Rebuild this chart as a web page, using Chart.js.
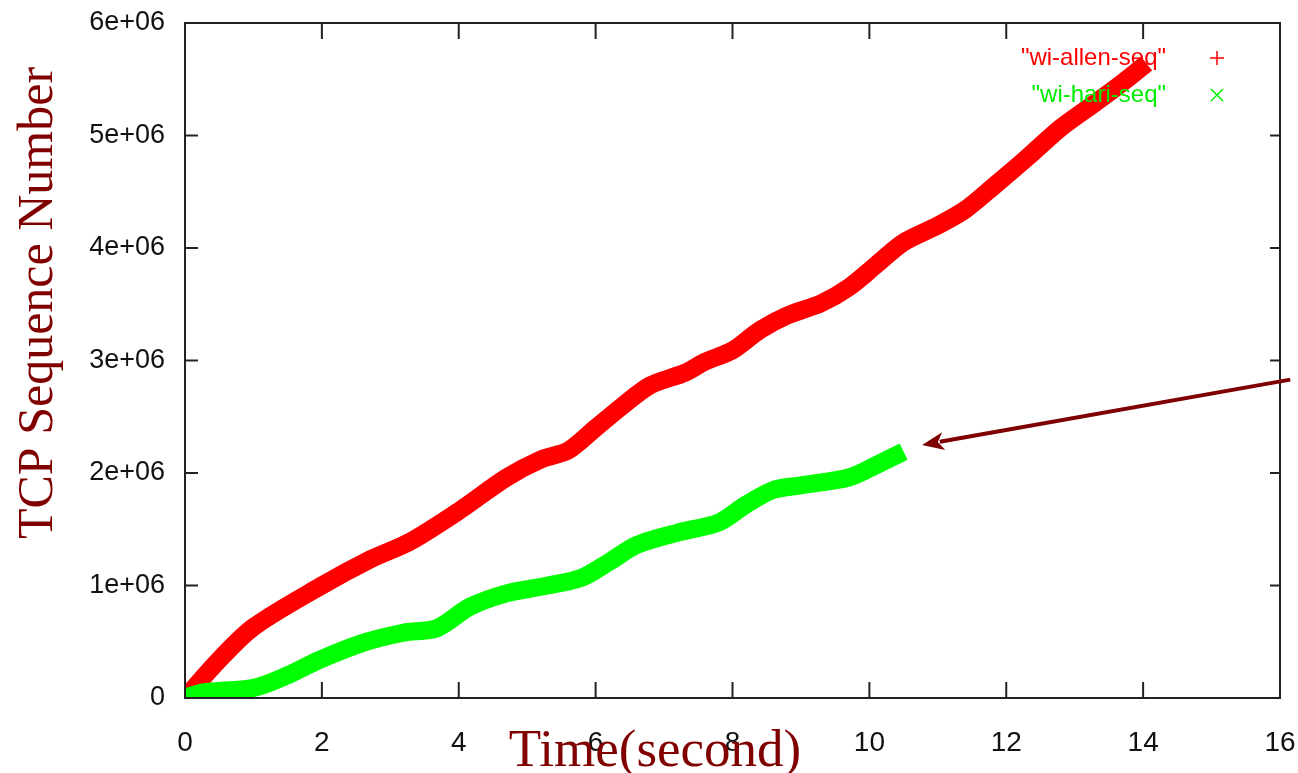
<!DOCTYPE html>
<html>
<head>
<meta charset="utf-8">
<script src="https://cdn.jsdelivr.net/npm/chart.js@4.4.1/dist/chart.umd.min.js"></script>
<style>
html,body{margin:0;padding:0;background:#fff;}
#wrap{width:1298px;height:773px;}
</style>
</head>
<body>
<div id="wrap"><canvas id="c" width="1298" height="773"></canvas></div>
<script>
const xTicks = [0, 2, 4, 6, 8, 10, 12, 14, 16];
const yTicks = [0, 1e6, 2e6, 3e6, 4e6, 5e6, 6e6];
const yTickLabels = ["0", "1e+06", "2e+06", "3e+06", "4e+06", "5e+06", "6e+06"];

const allenTime = [0, 0.5, 1.0, 1.97, 2.7, 3.29, 4.02, 4.7, 5.2, 5.6, 6.0, 6.4, 6.8, 7.3, 7.6, 8.0, 8.4, 8.8, 9.3, 9.7, 10.1, 10.5, 11.0, 11.4, 11.8, 12.3, 12.8, 13.3, 13.7, 14.05];
const allenSeq = [0, 0.34e6, 0.63e6, 0.99e6, 1.23e6, 1.39e6, 1.67e6, 1.96e6, 2.12e6, 2.2e6, 2.4e6, 2.6e6, 2.78e6, 2.89e6, 2.99e6, 3.09e6, 3.27e6, 3.4e6, 3.51e6, 3.65e6, 3.85e6, 4.05e6, 4.2e6, 4.34e6, 4.54e6, 4.8e6, 5.07e6, 5.29e6, 5.47e6, 5.64e6];

const hariTime = [0, 0.26, 1.0, 1.49, 1.97, 2.6, 3.19, 3.68, 4.16, 4.7, 5.3, 5.8, 6.2, 6.6, 7.2, 7.8, 8.2, 8.6, 9.0, 9.7, 10.1, 10.5];
const hariSeq = [0, 0.05e6, 0.09e6, 0.2e6, 0.34e6, 0.49e6, 0.58e6, 0.62e6, 0.81e6, 0.93e6, 1.0e6, 1.07e6, 1.21e6, 1.36e6, 1.47e6, 1.56e6, 1.72e6, 1.85e6, 1.89e6, 1.96e6, 2.07e6, 2.19e6];

const seriesNames = ['"wi-allen-seq"', '"wi-hari-seq"'];
const arrowTail = [16.15, 2.83e6];
const arrowHead = [10.77, 2.25e6];

const xTitle = "Time(second)";
const yTitle = "TCP Sequence Number";

const SANS = "'Liberation Sans', Arial, sans-serif";

function pts(xs, ys) { return xs.map((x, i) => ({x: x, y: ys[i]})); }

const framePlugin = {
  id: 'frame',
  afterDatasetsDraw(chart) {
    const {ctx, chartArea: a, scales: {x, y}} = chart;
    ctx.save();
    ctx.strokeStyle = '#222';
    ctx.lineWidth = 2;
    ctx.strokeRect(a.left, a.top, a.right - a.left, a.bottom - a.top);
    ctx.beginPath();
    xTicks.forEach(v => {
      const px = x.getPixelForValue(v);
      ctx.moveTo(px, a.bottom); ctx.lineTo(px, a.bottom - 16);
      ctx.moveTo(px, a.top); ctx.lineTo(px, a.top + 16);
    });
    yTicks.forEach(v => {
      const py = y.getPixelForValue(v);
      ctx.moveTo(a.left, py); ctx.lineTo(a.left + 13, py);
      ctx.moveTo(a.right, py); ctx.lineTo(a.right - 10, py);
    });
    ctx.stroke();

    // legend
    const colors = ['#ff0000', '#00ee00'];
    const rowsY = [58, 95];
    ctx.font = "24px " + SANS;
    ctx.textAlign = 'right';
    ctx.textBaseline = 'middle';
    seriesNames.forEach((n, i) => {
      ctx.fillStyle = colors[i];
      ctx.fillText(n, 1166, rowsY[i]);
    });
    ctx.strokeStyle = colors[0];
    ctx.lineWidth = 1.5;
    ctx.beginPath();
    ctx.moveTo(1210, rowsY[0]); ctx.lineTo(1224, rowsY[0]);
    ctx.moveTo(1217, rowsY[0] - 7); ctx.lineTo(1217, rowsY[0] + 7);
    ctx.stroke();
    ctx.strokeStyle = colors[1];
    ctx.beginPath();
    ctx.moveTo(1211, rowsY[1] - 6); ctx.lineTo(1223, rowsY[1] + 6);
    ctx.moveTo(1223, rowsY[1] - 6); ctx.lineTo(1211, rowsY[1] + 6);
    ctx.stroke();
    ctx.restore();
  },
  afterDraw(chart) {
    const {ctx, scales: {x, y}} = chart;
    ctx.save();
    // arrow
    const tx = x.getPixelForValue(arrowTail[0]), ty = y.getPixelForValue(arrowTail[1]);
    const hx = x.getPixelForValue(arrowHead[0]), hy = y.getPixelForValue(arrowHead[1]);
    const ang = Math.atan2(hy - ty, hx - tx);
    const L = 22, W = 9;
    const bx = hx - L * Math.cos(ang), by = hy - L * Math.sin(ang);
    ctx.strokeStyle = '#7f0000';
    ctx.fillStyle = '#7f0000';
    ctx.lineWidth = 4;
    ctx.beginPath();
    ctx.moveTo(tx, ty); ctx.lineTo(bx + 4 * Math.cos(ang), by + 4 * Math.sin(ang));
    ctx.stroke();
    ctx.beginPath();
    ctx.moveTo(hx, hy);
    ctx.lineTo(bx + W * Math.sin(ang), by - W * Math.cos(ang));
    ctx.lineTo(bx + 6 * Math.cos(ang), by + 6 * Math.sin(ang));
    ctx.lineTo(bx - W * Math.sin(ang), by + W * Math.cos(ang));
    ctx.closePath();
    ctx.fill();

    // titles
    ctx.fillStyle = '#800000';
    ctx.font = "53px 'Liberation Serif', 'DejaVu Serif', serif";
    ctx.textAlign = 'center';
    ctx.textBaseline = 'alphabetic';
    ctx.fillText(xTitle, 655, 766);
    ctx.translate(52, 303);
    ctx.rotate(-Math.PI / 2);
    ctx.font = "50px 'Liberation Serif', 'DejaVu Serif', serif";
    ctx.fillText(yTitle, 0, 0);
    ctx.restore();
  }
};

new Chart(document.getElementById('c'), {
  type: 'line',
  data: {
    datasets: [
      {
        label: seriesNames[1],
        data: pts(hariTime, hariSeq),
        borderColor: '#00ff00',
        backgroundColor: '#00ff00',
        borderWidth: 18,
        pointRadius: 0,
        tension: 0.3,
        fill: false,
        order: 0
      },
      {
        label: seriesNames[0],
        data: pts(allenTime, allenSeq),
        borderColor: '#ff0000',
        backgroundColor: '#ff0000',
        borderWidth: 18,
        pointRadius: 0,
        tension: 0.3,
        fill: false,
        order: 1
      }
    ]
  },
  options: {
    responsive: false,
    animation: false,
    devicePixelRatio: 1,
    layout: {padding: {left: 0, right: 0, top: 23, bottom: 0}},
    plugins: {legend: {display: false}, tooltip: {enabled: false}},
    scales: {
      x: {
        type: 'linear',
        min: 0, max: 16,
        afterBuildTicks: s => { s.ticks = xTicks.map(v => ({value: v})); },
        afterFit: s => { s.height = 75; s.paddingRight = 18; s.paddingLeft = 0; },
        grid: {display: false},
        border: {display: false},
        ticks: {
          padding: 20,
          color: '#111',
          font: {family: SANS, size: 28},
          maxRotation: 0,
          callback: v => String(v)
        }
      },
      y: {
        type: 'linear',
        min: 0, max: 6e6,
        afterBuildTicks: s => { s.ticks = yTicks.map(v => ({value: v})); },
        afterFit: s => { s.width = 185; s.paddingTop = 0; s.paddingBottom = 0; },
        grid: {display: false},
        border: {display: false},
        ticks: {
          padding: 12,
          color: '#111',
          font: {family: SANS, size: 27},
          callback: v => yTickLabels[yTicks.indexOf(v)]
        }
      }
    }
  },
  plugins: [framePlugin]
});
</script>
</body>
</html>
